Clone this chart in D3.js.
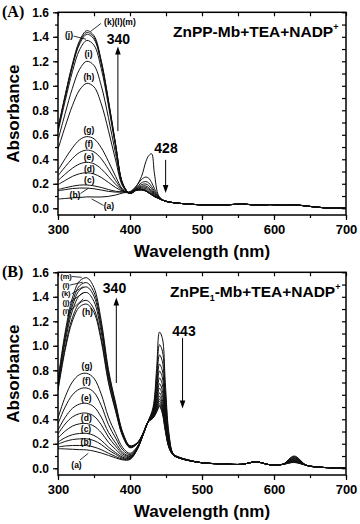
<!DOCTYPE html>
<html><head><meta charset="utf-8">
<script src="https://cdn.jsdelivr.net/npm/d3@7"></script>
<style>body{margin:0;background:#fff}svg{display:block}text{font-family:"Liberation Sans",Arial,sans-serif;font-weight:bold}</style>
</head><body>
<svg id="c" width="360" height="524"></svg>
<script>
// ---------- DATA ----------
const wlA = [300,310,320,330,340,350,360,370,380,390,400,408,416,422,426,430,434,440,448,460,480,500,530,555,575,595,615,632,650,670,700];
const A_a = [.075,.08,.085,.088,.093,.092,.092,.097,.108,.125,.135,.175,.26,.38,.43,.445,.28,.10,.06,.046,.035,.028,.026,.035,.026,.03,.024,.026,.015,.004,0];
const A_b = [.143,.152,.161,.165,.165,.159,.149,.138,.132,.132,.135,.175,.235,.255,.245,.21,.16,.095,.06,.046,.035,.028,.026,.035,.026,.03,.024,.026,.015,.004,0];
const A_c = [.153,.167,.18,.189,.19,.183,.17,.153,.139,.134,.13,.165,.208,.218,.207,.178,.139,.09,.06,.046,.035,.028,.026,.035,.026,.03,.024,.026,.015,.004,0];
const A_d = [.193,.227,.26,.282,.29,.28,.252,.211,.17,.139,.128,.16,.193,.198,.185,.16,.128,.088,.06,.046,.035,.028,.026,.035,.026,.03,.024,.026,.015,.004,0];
const A_e = [.226,.279,.327,.362,.375,.363,.322,.26,.196,.144,.125,.156,.181,.182,.169,.146,.119,.085,.06,.046,.035,.028,.026,.035,.026,.03,.024,.026,.015,.004,0];
const A_f = [.266,.339,.406,.456,.475,.46,.405,.319,.226,.149,.124,.153,.173,.171,.158,.137,.113,.084,.06,.046,.035,.028,.026,.035,.026,.03,.024,.026,.015,.004,0];
const A_g = [.31,.405,.493,.559,.585,.567,.495,.383,.26,.155,.123,.15,.165,.161,.147,.128,.107,.083,.06,.046,.035,.028,.026,.035,.026,.03,.024,.026,.015,.004,0];
const A_h = [.483,.667,.838,.966,1.02,.991,.854,.636,.393,.178,.121,.148,.158,.15,.136,.119,.101,.081,.06,.046,.035,.028,.026,.035,.026,.03,.024,.026,.015,.004,0];
const A_i = [.555,.775,.98,1.135,1.20,1.166,1.002,.741,.447,.187,.12,.146,.154,.145,.13,.115,.098,.08,.06,.046,.035,.028,.026,.035,.026,.03,.024,.026,.015,.004,0];
const A_j = [.623,.878,1.115,1.294,1.37,1.331,1.142,.84,.499,.196,.12,.146,.152,.143,.128,.113,.097,.08,.06,.046,.035,.028,.026,.035,.026,.03,.024,.026,.015,.004,0];
const A_k = [.642,.908,1.155,1.341,1.42,1.38,1.183,.869,.515,.199,.12,.145,.151,.141,.126,.111,.096,.08,.06,.046,.035,.028,.026,.035,.026,.03,.024,.026,.015,.004,0];
const A_l = [.648,.917,1.166,1.355,1.435,1.395,1.196,.877,.519,.2,.12,.145,.15,.14,.125,.11,.095,.08,.06,.046,.035,.028,.026,.035,.026,.03,.024,.026,.015,.004,0];
const A_m = [.654,.926,1.178,1.369,1.45,1.409,1.208,.886,.524,.2,.12,.145,.15,.14,.125,.11,.095,.08,.06,.046,.035,.028,.026,.035,.026,.03,.024,.026,.015,.004,0];

const wlB = [300,310,320,330,340,350,360,370,380,390,400,410,418,425,432,437,441,445,449,454,460,468,480,500,530,555,575,595,612,628,645,660,680,700];
const B_a  = [.16,.158,.155,.152,.15,.14,.125,.105,.085,.068,.072,.152,.27,.38,.497,.815,1.112,1.06,.701,.29,.119,.092,.07,.045,.035,.032,.052,.028,.032,.10,.024,.01,.004,0];
const B_b  = [.174,.182,.186,.186,.185,.173,.152,.123,.096,.074,.075,.153,.27,.379,.482,.755,1.009,.956,.634,.27,.117,.09,.069,.045,.035,.032,.052,.028,.032,.095,.024,.01,.004,0];
const B_x2 = [.196,.219,.234,.24,.24,.226,.194,.15,.114,.082,.079,.156,.271,.379,.47,.705,.925,.871,.58,.253,.116,.089,.068,.045,.035,.032,.052,.028,.032,.09,.024,.01,.004,0];
const B_c  = [.214,.25,.274,.284,.285,.268,.229,.173,.128,.09,.083,.157,.271,.378,.459,.661,.85,.795,.531,.238,.114,.088,.067,.045,.035,.032,.052,.028,.032,.085,.024,.01,.004,0];
const B_d  = [.246,.304,.344,.363,.365,.344,.291,.213,.154,.102,.089,.161,.272,.378,.451,.628,.794,.738,.495,.227,.113,.087,.067,.045,.035,.032,.052,.028,.032,.08,.024,.01,.004,0];
const B_x1 = [.28,.362,.419,.446,.45,.425,.356,.255,.181,.116,.096,.164,.273,.378,.443,.595,.738,.682,.458,.216,.112,.087,.067,.045,.035,.032,.052,.028,.032,.075,.024,.01,.004,0];
const B_e  = [.312,.416,.489,.524,.53,.501,.418,.295,.207,.129,.102,.167,.274,.378,.436,.568,.691,.634,.428,.207,.111,.086,.066,.045,.035,.032,.052,.028,.032,.071,.024,.01,.004,0];
const B_f  = [.362,.501,.599,.647,.655,.62,.514,.358,.247,.149,.112,.172,.275,.377,.431,.546,.654,.596,.404,.199,.111,.086,.066,.045,.035,.032,.052,.028,.032,.067,.024,.01,.004,0];
const B_g  = [.41,.583,.705,.765,.775,.734,.606,.418,.285,.168,.122,.177,.276,.377,.426,.524,.616,.559,.379,.192,.11,.085,.065,.045,.035,.032,.052,.028,.032,.063,.024,.01,.004,0];
const B_h  = [.636,.967,1.202,1.318,1.34,1.271,1.041,.70,.466,.258,.167,.20,.282,.377,.422,.507,.588,.53,.361,.186,.109,.085,.065,.045,.035,.032,.052,.028,.032,.059,.024,.01,.004,0];
const B_i  = [.648,.988,1.229,1.348,1.37,1.299,1.064,.715,.475,.263,.17,.201,.282,.377,.418,.493,.565,.507,.346,.181,.109,.085,.065,.045,.035,.032,.052,.028,.032,.056,.024,.01,.004,0];
const B_j  = [.674,1.032,1.286,1.411,1.435,1.361,1.114,.748,.496,.274,.175,.203,.283,.377,.415,.482,.546,.488,.334,.178,.108,.084,.065,.045,.035,.032,.052,.028,.032,.053,.024,.01,.004,0];
const B_k  = [.692,1.062,1.325,1.455,1.48,1.404,1.149,.77,.511,.281,.178,.205,.283,.377,.413,.471,.527,.469,.322,.174,.108,.084,.065,.045,.035,.032,.052,.028,.032,.051,.024,.01,.004,0];
const B_l  = [.706,1.086,1.356,1.49,1.515,1.437,1.176,.788,.522,.286,.181,.207,.284,.377,.411,.463,.513,.455,.313,.171,.108,.084,.065,.045,.035,.032,.052,.028,.032,.049,.024,.01,.004,0];
const B_m  = [.722,1.113,1.391,1.529,1.555,1.475,1.207,.808,.535,.293,.184,.208,.284,.377,.409,.458,.504,.445,.307,.169,.108,.084,.064,.045,.035,.032,.052,.028,.032,.047,.024,.01,.004,0];

const xTicks = [300,400,500,600,700];
const yTicks = [0,0.2,0.4,0.6,0.8,1.0,1.2,1.4,1.6];

// ---------- LAYOUT ----------
const svg = d3.select("#c");
const X0 = 58, X1 = 346;
const panels = [
  {wl: wlA, series: [A_a,A_b,A_c,A_d,A_e,A_f,A_g,A_h,A_i,A_j,A_k,A_l,A_m], top: 12.3, bot: 215, tag: "(A)",
   labels: [
     {t:"(k)(l)(m)", x:386, y:1.517, lead:[359.7,1.509,345.1,1.443]},
     {t:"(j)", x:315.3, y:1.415, lead:[321.5,1.406,338.9,1.38]},
     {t:"(i)", x:342.4, y:1.257}, {t:"(h)", x:343, y:1.068},
     {t:"(g)", x:343, y:.635}, {t:"(f)", x:343, y:.525}, {t:"(e)", x:343, y:.419},
     {t:"(d)", x:343.5, y:.321}, {t:"(c)", x:343.5, y:.231},
     {t:"(b)", x:323.6, y:.109, lead:[331.3,.121,342.1,.163]},
     {t:"(a)", x:370.8, y:.016, lead:[363.2,.023,346.8,.076]}
   ],
   peaks: [{t:"340", x:384, y:1.34, a:[383.2,.63,383.2,1.32]}, {t:"428", x:450, y:.45, a:[449.5,.395,449.5,.125]}]},
  {wl: wlB, series: [B_a,B_b,B_x2,B_c,B_d,B_x1,B_e,B_f,B_g,B_h,B_i,B_j,B_k,B_l,B_m], top: 272.3, bot: 475, tag: "(B)",
   labels: [
     {t:"(m)", x:311.1, y:1.566, lead:[319,1.566,332.9,1.559], s:7.5},
     {t:"(l)", x:311.1, y:1.495, lead:[316.2,1.495,334.4,1.52], s:7.5},
     {t:"(k)", x:311.1, y:1.424, lead:[319,1.424,335.2,1.484], s:7.5},
     {t:"(j)", x:311.1, y:1.353, lead:[316.2,1.353,335.2,1.434], s:7.5},
     {t:"(i)", x:311.1, y:1.282, lead:[316.2,1.282,335.2,1.384], s:7.5},
     {t:"(h)", x:341, y:1.276},
     {t:"(g)", x:340.3, y:.837}, {t:"(f)", x:339.6, y:.713}, {t:"(e)", x:339.3, y:.571},
     {t:"(d)", x:339.3, y:.408}, {t:"(c)", x:338.9, y:.319}, {t:"(b)", x:338.9, y:.217},
     {t:"(a)", x:325.7, y:.027, lead:[330.6,.068,342.1,.122]}
   ],
   peaks: [{t:"340", x:378.5, y:1.43, a:[381,.696,381,1.395]}, {t:"443", x:475, y:1.08, a:[473,1.063,473,.487]}]}
];

const x = d3.scaleLinear().domain([300,700]).range([X0, X1]);

panels.forEach((p, pi) => {
  const y = d3.scaleLinear().domain([-0.055, 1.6]).range([p.bot, p.top]);
  const g = svg.append("g");

  const cid = "clip" + pi;
  svg.append("clipPath").attr("id", cid).append("rect")
    .attr("x", X0).attr("y", p.top).attr("width", X1 - X0).attr("height", p.bot - p.top);

  const line = d3.line().x((d, i) => x(p.wl[i])).y(d => y(d)).curve(d3.curveCatmullRom.alpha(0.5));
  g.append("g").attr("clip-path", `url(#${cid})`).selectAll("path").data(p.series).join("path")
    .attr("d", line).attr("fill", "none").attr("stroke", "#111").attr("stroke-width", 1);

  const minorY = d3.range(0, 1.601, 0.1);
  const minorX = d3.range(300, 701, 50);
  const styleAx = s => { s.select(".domain").remove(); s.selectAll("line").attr("stroke", "#000").attr("stroke-width", 1.2); };
  g.append("g").attr("transform", `translate(${X0},0)`)
    .call(d3.axisLeft(y).tickValues(minorY).tickSize(3).tickFormat("")).call(styleAx);
  g.append("g").attr("transform", `translate(${X0},0)`)
    .call(d3.axisLeft(y).tickValues(yTicks).tickSize(5).tickPadding(4).tickFormat(d3.format(".1f")))
    .call(styleAx).selectAll("text").attr("font-size", 12).attr("fill", "#000").attr("font-weight", "bold");
  g.append("g").attr("transform", `translate(${X1},0)`)
    .call(d3.axisRight(y).tickValues(minorY).tickSize(-4).tickFormat("")).call(styleAx);
  g.append("g").attr("transform", `translate(0,${p.bot})`)
    .call(d3.axisBottom(x).tickValues(minorX).tickSize(3).tickFormat("")).call(styleAx);
  g.append("g").attr("transform", `translate(0,${p.bot})`)
    .call(d3.axisBottom(x).tickValues(xTicks).tickSize(5).tickPadding(5).tickFormat(d3.format("d")))
    .call(styleAx).selectAll("text").attr("font-size", 13).attr("fill", "#000").attr("font-weight", "bold");
  g.append("g").attr("transform", `translate(0,${p.top})`)
    .call(d3.axisTop(x).tickValues(minorX).tickSize(-4).tickFormat("")).call(styleAx);
  g.append("rect").attr("x", X0).attr("y", p.top).attr("width", X1 - X0).attr("height", p.bot - p.top)
    .attr("fill", "none").attr("stroke", "#000").attr("stroke-width", 1.5);

  g.append("text").attr("x", 202).attr("y", p.bot + 42).attr("text-anchor", "middle")
    .attr("font-size", 17).text("Wavelength (nm)");
  g.append("text").attr("transform", `translate(18.5,${(p.top + p.bot) / 2}) rotate(-90)`)
    .attr("text-anchor", "middle").attr("font-size", 17).text("Absorbance");
  g.append("text").attr("x", 2).attr("y", p.top + 5).attr("font-size", 16)
    .style("font-family", "'Liberation Serif','Times New Roman',serif").text(p.tag);

  const st = g.append("text").attr("x", pi === 0 ? 173 : 170).attr("y", p.top + 24.8).attr("font-size", 15.5);
  if (pi === 0) {
    st.append("tspan").text("ZnPP-Mb+TEA+NADP");
  } else {
    st.append("tspan").text("ZnPE");
    st.append("tspan").attr("font-size", 9).attr("dy", 3.5).text("1");
    st.append("tspan").attr("dy", -3.5).text("-Mb+TEA+NADP");
  }
  st.append("tspan").attr("font-size", 9).attr("dy", -7).text("+");

  p.labels.forEach(l => {
    g.append("text").attr("x", x(l.x)).attr("y", y(l.y)).attr("dy", "0.35em")
      .attr("text-anchor", "middle").attr("font-size", l.s || 8.5).text(l.t);
    if (l.lead) {
      g.append("line").attr("x1", x(l.lead[0])).attr("y1", y(l.lead[1]))
        .attr("x2", x(l.lead[2])).attr("y2", y(l.lead[3])).attr("stroke", "#000").attr("stroke-width", 0.8);
    }
  });

  p.peaks.forEach(k => {
    g.append("text").attr("x", x(k.x)).attr("y", y(k.y)).attr("text-anchor", "middle")
      .attr("font-size", 14).text(k.t);
    const xa = x(k.a[0]), y1 = y(k.a[1]), y2 = y(k.a[3]);
    const dir = y2 < y1 ? -1 : 1;
    g.append("line").attr("x1", xa).attr("y1", y1).attr("x2", xa).attr("y2", y2 - dir * 7)
      .attr("stroke", "#000").attr("stroke-width", 1);
    g.append("path").attr("d", `M${xa},${y2}L${xa - 2.8},${y2 - dir * 8}L${xa + 2.8},${y2 - dir * 8}Z`).attr("fill", "#000");
  });
});
</script></body></html>
